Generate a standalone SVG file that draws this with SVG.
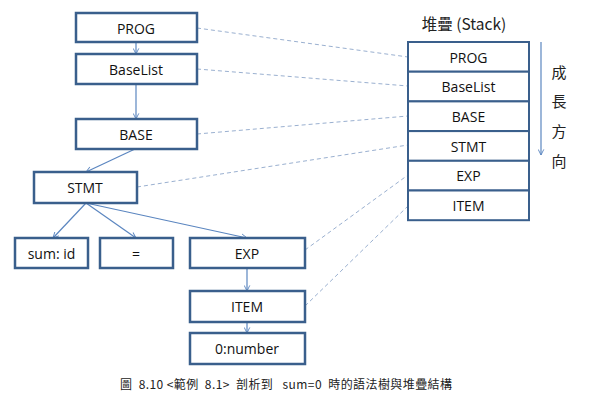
<svg xmlns="http://www.w3.org/2000/svg" width="594" height="401" viewBox="0 0 594 401">
<defs>
<style>
.n{fill:#fff;stroke:#3a5f8c;stroke-width:2.5}
.c{fill:#fff;stroke:#3a5f8c;stroke-width:2}
.t{font-family:"Open Sans","Liberation Sans",sans-serif;font-size:14px;fill:#111;text-anchor:middle;dominant-baseline:central}
.e{stroke:#5b86c0;stroke-width:1.2;fill:none;marker-end:url(#ah)}
.d{stroke:#9ab0d0;stroke-width:1;stroke-dasharray:4 3;fill:none}
.cj{font-family:"Noto Sans CJK TC","Noto Sans",sans-serif;fill:#222}
</style>
<marker id="ah" viewBox="0 0 10 10" refX="9" refY="5" markerWidth="7" markerHeight="7" orient="auto" markerUnits="userSpaceOnUse">
<path d="M1,1 L9,5 L1,9" fill="none" stroke="#5b86c0" stroke-width="1.3"/>
</marker>
</defs>
<rect width="594" height="401" fill="#fff"/>
<g id="connectors">
<line class="e" x1="136" y1="42" x2="136" y2="54"/>
<line class="e" x1="136" y1="84" x2="136" y2="119"/>
<line class="e" x1="135" y1="149" x2="86" y2="172"/>
<line class="e" x1="86" y1="203" x2="53" y2="238"/>
<line class="e" x1="86" y1="203" x2="136" y2="238"/>
<line class="e" x1="86" y1="203" x2="247" y2="238"/>
<line class="e" x1="247" y1="268" x2="247" y2="291"/>
<line class="e" x1="247" y1="322" x2="247" y2="333"/>
<line class="d" x1="197" y1="28" x2="408" y2="57"/>
<line class="d" x1="197" y1="69" x2="408" y2="86"/>
<line class="d" x1="197" y1="134" x2="408" y2="116"/>
<line class="d" x1="137" y1="187" x2="408" y2="145"/>
<line class="d" x1="305" y1="250" x2="408" y2="175"/>
<line class="d" x1="305" y1="306" x2="408" y2="206"/>
<line x1="541" y1="42" x2="541" y2="155" stroke="#5b86c0" stroke-width="1.2" marker-end="url(#ah)"/>
</g>
<g id="PROG"><rect class="n" x="76" y="13" width="121" height="29"/><text class="t" x="136" y="28">PROG</text></g>
<g id="BaseList"><rect class="n" x="76" y="54" width="121" height="30"/><text class="t" x="136" y="69">BaseList</text></g>
<g id="BASE"><rect class="n" x="76" y="119" width="121" height="30"/><text class="t" x="136" y="134">BASE</text></g>
<g id="STMT"><rect class="n" x="34" y="172" width="103" height="31"/><text class="t" x="85" y="187.5">STMT</text></g>
<g id="sumid"><rect class="n" x="15" y="238" width="73" height="30"/><text class="t" x="51.5" y="253">sum: id</text></g>
<g id="eq"><rect class="n" x="100" y="238" width="73" height="30"/><text class="t" x="136" y="253">=</text></g>
<g id="EXP"><rect class="n" x="190" y="238" width="115" height="30"/><text class="t" x="247" y="253">EXP</text></g>
<g id="ITEM"><rect class="n" x="190" y="291" width="115" height="31"/><text class="t" x="247" y="306.5">ITEM</text></g>
<g id="number"><rect class="n" x="190" y="333" width="115" height="31"/><text class="t" x="247" y="348.5">0:number</text></g>
<g id="stack">
<text class="cj" x="464" y="30" font-size="15.5" text-anchor="middle">堆疊 (Stack)</text>
<rect class="c" x="408" y="42" width="121" height="29.7"/><text class="t" x="468.5" y="57">PROG</text>
<rect class="c" x="408" y="71.7" width="121" height="29.7"/><text class="t" x="468.5" y="86.5">BaseList</text>
<rect class="c" x="408" y="101.4" width="121" height="29.7"/><text class="t" x="468.5" y="116">BASE</text>
<rect class="c" x="408" y="131.1" width="121" height="29.7"/><text class="t" x="468.5" y="146">STMT</text>
<rect class="c" x="408" y="160.8" width="121" height="29.7"/><text class="t" x="468.5" y="175.5">EXP</text>
<rect class="c" x="408" y="190.5" width="121" height="29.7"/><text class="t" x="468.5" y="205.5">ITEM</text>
</g>
<g id="growth" class="cj" font-size="15" text-anchor="middle">
<text x="559" y="78">成</text>
<text x="559" y="107">長</text>
<text x="559" y="137">方</text>
<text x="559" y="167">向</text>
</g>
<text class="cj" x="120" y="389" font-size="12" fill="#333" xml:space="preserve" textLength="332" lengthAdjust="spacing">圖  8.10 &lt;範例  8.1&gt;  剖析到   sum=0  時的語法樹與堆疊結構</text>
</svg>
